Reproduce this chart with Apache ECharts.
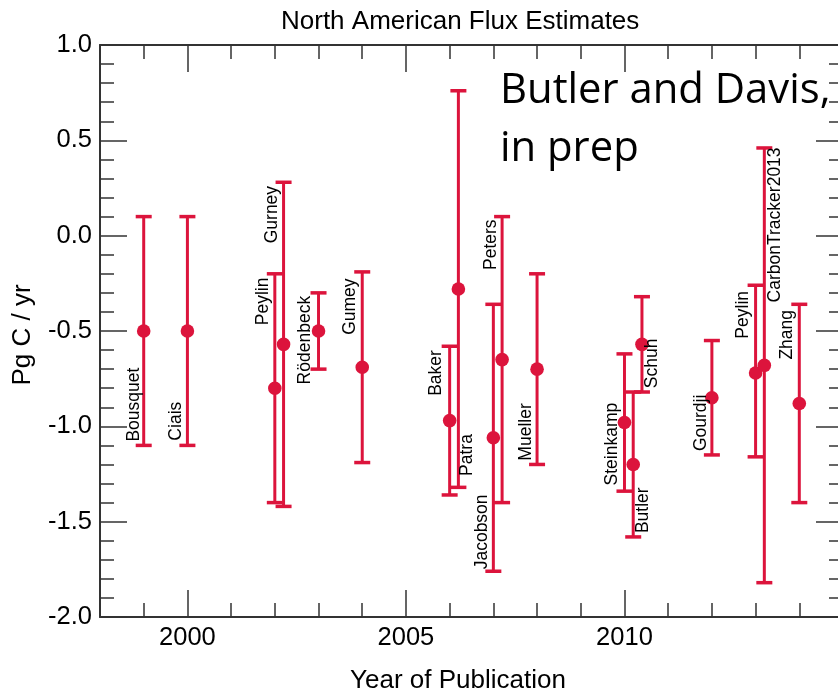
<!DOCTYPE html>
<html><head><meta charset="utf-8">
<script src="https://cdn.jsdelivr.net/npm/echarts@6/dist/echarts.min.js"></script>
<style>html,body{margin:0;padding:0;background:#fff}#c{width:838px;height:691px}</style>
</head><body><div id="c"></div>
<script>
// ---- data ----
const authors = ['Bousquet','Ciais','Peylin','Gurney','Rödenbeck','Gumey','Baker','Patra','Jacobson','Peters','Mueller','Steinkamp','Butler','Schuh','Gourdji','Peylin','CarbonTracker2013','Zhang'];
const years = [1999, 2000, 2002.0, 2002.2, 2003, 2004, 2006.0, 2006.2, 2007.0, 2007.2, 2008, 2010.0, 2010.2, 2010.4, 2012, 2013.0, 2013.2, 2014];
const fluxMean = [-0.5, -0.5, -0.8, -0.57, -0.5, -0.69, -0.97, -0.28, -1.06, -0.65, -0.7, -0.98, -1.2, -0.57, -0.85, -0.72, -0.68, -0.88];
const fluxLow  = [-1.1, -1.1, -1.4, -1.42, -0.7, -1.19, -1.36, -1.32, -1.76, -1.4, -1.2, -1.34, -1.58, -0.82, -1.15, -1.16, -1.82, -1.4];
const fluxHigh = [0.1, 0.1, -0.2, 0.28, -0.3, -0.19, -0.58, 0.76, -0.36, 0.1, -0.2, -0.62, -0.82, -0.32, -0.55, -0.26, 0.46, -0.36];
const xTickLabels = [2000, 2005, 2010];
const yRange = [-2, 1];
const xRange = [1998, 2015];
const titleText = 'North American Flux Estimates';
const xName = 'Year of Publication';
const yName = 'Pg C / yr';
const noteLines = ['Butler and Davis,', 'in prep'];
// label layout: [horizontal offset from bar in px, y value where the rotated name starts]
const labelLayout = [[-10,-1.08],[-11.5,-1.075],[-11.5,-0.47],[-11.5,-0.04],[-13,-0.78],[-12,-0.52],[-13,-0.84],[9,-1.26],[-11.5,-1.75],[-10.5,-0.18],[-11,-1.18],[-12,-1.31],[10,-1.56],[10,-0.80],[-11,-1.13],[-12,-0.54],[10.5,-0.35],[-12,-0.65]];

const RED = '#DC143C';
const AX = '#333';
const FONT = '"Liberation Sans", Arial, sans-serif';

const chart = echarts.init(document.getElementById('c'), null, {renderer: 'canvas'});

function renderItem(params, api) {
  const i = params.dataIndex;
  const x = api.value(0), m = api.value(1), lo = api.value(2), hi = api.value(3);
  const pT = api.coord([x, hi]), pB = api.coord([x, lo]), pM = api.coord([x, m]);
  const cw = 8;
  const lay = labelLayout[i];
  const ly = api.coord([x, lay[1]])[1];
  return {
    type: 'group',
    children: [
      {type: 'line', shape: {x1: pT[0], y1: pT[1], x2: pB[0], y2: pB[1]}, style: {stroke: RED, lineWidth: 3}},
      {type: 'line', shape: {x1: pT[0] - cw, y1: pT[1], x2: pT[0] + cw, y2: pT[1]}, style: {stroke: RED, lineWidth: 3.5}},
      {type: 'line', shape: {x1: pB[0] - cw, y1: pB[1], x2: pB[0] + cw, y2: pB[1]}, style: {stroke: RED, lineWidth: 3.5}},
      {type: 'circle', shape: {cx: pM[0], cy: pM[1], r: 6.8}, style: {fill: RED}},
      {type: 'text', x: pM[0] + lay[0], y: ly, rotation: Math.PI / 2,
        style: {text: authors[i], fontSize: 17.5, fontFamily: FONT, fill: '#000', align: 'left', verticalAlign: 'middle'}}
    ]
  };
}

const baseX = {type: 'value', min: xRange[0], max: xRange[1], splitLine: {show: false}};
const option = {
  animation: false,
  backgroundColor: '#fff',
  title: {text: titleText, left: 276, top: 4, textStyle: {fontSize: 26, fontWeight: 'normal', color: '#000', fontFamily: FONT}},
  grid: {left: 100, top: 45, width: 743, height: 572, outerBoundsMode: 'none', containLabel: false},
  xAxis: [
    Object.assign({}, baseX, {position: 'bottom',
      axisLine: {show: true, onZero: false, lineStyle: {color: AX, width: 2}},
      axisTick: {show: true, inside: true, length: 27, customValues: xTickLabels, lineStyle: {color: AX, width: 1.5}},
      axisLabel: {show: true, customValues: xTickLabels, fontSize: 25.5, color: '#000', fontFamily: FONT, margin: 8,
        formatter: v => String(Math.round(v))},
      name: xName, nameLocation: 'middle', nameGap: 51,
      nameTextStyle: {fontSize: 26, color: '#000', fontFamily: FONT, padding: [0, 27, 0, 0]}}),
    Object.assign({}, baseX, {position: 'bottom', interval: 1,
      axisLine: {show: false, onZero: false},
      axisTick: {show: true, inside: true, length: 14, lineStyle: {color: AX, width: 1.5}},
      axisLabel: {show: false}}),
    Object.assign({}, baseX, {position: 'top',
      axisLine: {show: true, onZero: false, lineStyle: {color: AX, width: 2}},
      axisTick: {show: true, inside: true, length: 27, customValues: xTickLabels, lineStyle: {color: AX, width: 1.5}},
      axisLabel: {show: false}}),
    Object.assign({}, baseX, {position: 'top', interval: 1,
      axisLine: {show: false, onZero: false},
      axisTick: {show: true, inside: true, length: 14, lineStyle: {color: AX, width: 1.5}},
      axisLabel: {show: false}})
  ],
  yAxis: [
    {type: 'value', min: yRange[0], max: yRange[1], interval: 0.5, position: 'left',
      axisLine: {show: true, onZero: false, lineStyle: {color: AX, width: 2}},
      axisTick: {show: true, inside: true, length: 27, lineStyle: {color: AX, width: 1.5}},
      minorTick: {show: true, splitNumber: 5, length: 14, lineStyle: {color: AX, width: 1.5}},
      axisLabel: {show: true, fontSize: 25.5, color: '#000', fontFamily: FONT, margin: 8, showMinLabel: true, showMaxLabel: true,
        formatter: v => v.toFixed(1)},
      splitLine: {show: false}, minorSplitLine: {show: false},
      name: yName, nameLocation: 'middle', nameGap: 64,
      nameTextStyle: {fontSize: 26, color: '#000', fontFamily: FONT, padding: [0, 8, 0, 0]}},
    {type: 'value', min: yRange[0], max: yRange[1], interval: 0.5, position: 'right',
      axisLine: {show: true, onZero: false, lineStyle: {color: AX, width: 2}},
      axisTick: {show: true, inside: true, length: 27, lineStyle: {color: AX, width: 1.5}},
      minorTick: {show: true, splitNumber: 5, length: 14, lineStyle: {color: AX, width: 1.5}},
      axisLabel: {show: false}, splitLine: {show: false}}
  ],
  graphic: [
    {type: 'text', left: 500, top: 62, z: 10,
      style: {text: noteLines.join('\n'), fontSize: 41.8, lineHeight: 58, fontFamily: '"Open Sans", Lato, sans-serif', fill: '#000'}}
  ],
  series: [{
    type: 'custom', xAxisIndex: 0, yAxisIndex: 0, clip: false,
    renderItem: renderItem,
    encode: {x: 0, y: [1, 2, 3]},
    data: years.map((y, i) => [y, fluxMean[i], fluxLow[i], fluxHigh[i]])
  }]
};
chart.setOption(option);
</script>
</body></html>
